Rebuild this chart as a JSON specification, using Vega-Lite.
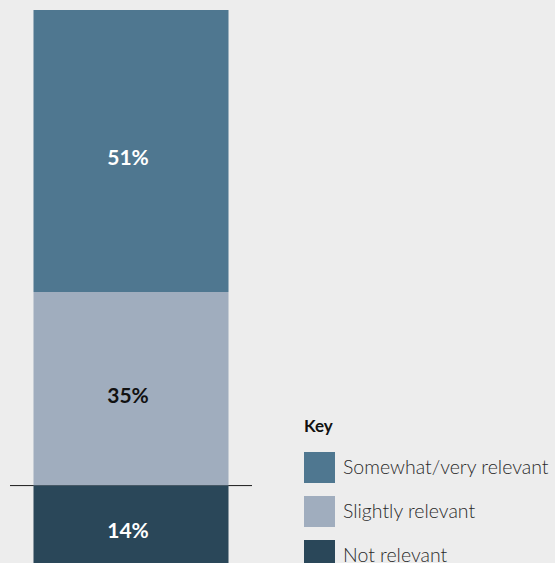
{
  "$schema": "https://vega.github.io/schema/vega-lite/v6.json",
  "autosize": {"type": "none"},
  "padding": {"left": 10, "top": 0, "right": 303, "bottom": 0},
  "width": 242,
  "height": 563,
  "background": "#ededed",
  "config": {"view": {"stroke": null}, "font": "Lato"},
  "data": {
    "values": [
      {"group": "All", "category": "Somewhat/very relevant", "share": 0.51},
      {"group": "All", "category": "Slightly relevant", "share": 0.35},
      {"group": "All", "category": "Not relevant", "share": 0.14}
    ]
  },
  "transform": [
    {"stack": "share", "groupby": ["group"], "sort": [{"field": "category", "order": "ascending"}], "as": ["y0", "y1"]},
    {"calculate": "(datum.y0 + datum.y1) / 2", "as": "ymid"}
  ],
  "layer": [
    {
      "transform": [{"filter": "datum.category === 'Not relevant'"}],
      "mark": {"type": "rule", "color": "#1a1a1a", "strokeWidth": 1},
      "encoding": {
        "y": {"field": "y1", "type": "quantitative", "axis": null, "scale": {"domain": [0, 1.0181], "nice": false, "zero": true}}
      }
    },
    {
      "mark": {"type": "bar"},
      "encoding": {
        "x": {"field": "group", "type": "nominal", "axis": null, "scale": {"paddingInner": 0, "paddingOuter": 0.1205}},
        "y": {"field": "y1", "type": "quantitative", "axis": null, "scale": {"domain": [0, 1.0181], "nice": false, "zero": true}},
        "y2": {"field": "y0"},
        "color": {
          "field": "category",
          "type": "nominal",
          "scale": {
            "domain": ["Somewhat/very relevant", "Slightly relevant", "Not relevant"],
            "range": ["#4f7790", "#a0adbe", "#2a4759"]
          },
          "legend": {
            "title": "Key",
            "orient": "none",
            "legendX": 294,
            "legendY": 419,
            "padding": 0,
            "symbolType": "square",
            "symbolSize": 961,
            "symbolStrokeWidth": 0,
            "symbolOpacity": 1,
            "rowPadding": 13,
            "labelOffset": 8,
            "labelFont": "Lato",
            "labelFontWeight": 300,
            "labelFontSize": 19.5,
            "labelColor": "#2a2a2a",
            "labelLimit": 300,
            "titleFont": "Lato",
            "titleFontSize": 17,
            "titleFontWeight": "bold",
            "titleColor": "#111111",
            "titlePadding": 16
          }
        }
      }
    },
    {
      "mark": {"type": "text", "font": "Lato", "fontWeight": "bold", "fontSize": 21, "baseline": "middle", "dy": 8, "dx": -3},
      "encoding": {
        "x": {"field": "group", "type": "nominal", "axis": null},
        "y": {"field": "ymid", "type": "quantitative", "axis": null, "scale": {"domain": [0, 1.0181], "nice": false, "zero": true}},
        "text": {"field": "share", "type": "quantitative", "format": ".0%"},
        "color": {
          "condition": {"test": "datum.category === 'Slightly relevant'", "value": "#111111"},
          "value": "#ffffff"
        }
      }
    }
  ]
}
